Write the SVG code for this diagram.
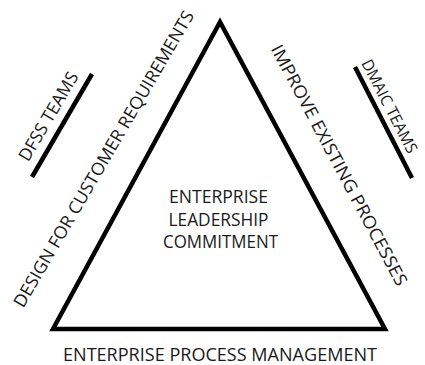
<svg xmlns="http://www.w3.org/2000/svg" width="425" height="365" viewBox="0 0 425 365">
<style>
.t{font-family:"Open Sans","Liberation Sans",sans-serif;font-size:17.5px;fill:#1a1a1a;}
.c{text-anchor:middle;}
.ln{stroke:#000;stroke-width:4.5;fill:none;stroke-linecap:butt;}
</style>
<rect width="425" height="365" fill="#fff"/>
<g id="triangle">
<polygon points="220,22 53,329 385,329" fill="#fff" stroke="#000" stroke-width="4.5" stroke-linejoin="miter"/>
</g>
<g id="connectors">
<line class="ln" x1="32" y1="177" x2="92" y2="74"/>
<line class="ln" x1="355" y1="67" x2="412" y2="178"/>
</g>
<g id="center">
<text class="t c" x="218.5" y="203" textLength="99" lengthAdjust="spacingAndGlyphs">ENTERPRISE</text>
<text class="t c" x="218.5" y="226" textLength="100" lengthAdjust="spacingAndGlyphs">LEADERSHIP</text>
<text class="t c" x="220.5" y="248" textLength="115" lengthAdjust="spacingAndGlyphs">COMMITMENT</text>
</g>
<g id="bottom">
<text class="t c" x="220" y="361" textLength="314" lengthAdjust="spacingAndGlyphs">ENTERPRISE PROCESS MANAGEMENT</text>
</g>
<g id="left-side">
<text class="t c" transform="translate(109,162) rotate(-59.7)" x="0" y="0" textLength="340" lengthAdjust="spacingAndGlyphs">DESIGN FOR CUSTOMER REQUIREMENTS</text>
</g>
<g id="right-side">
<text class="t c" transform="translate(333.8,168) rotate(62)" x="0" y="0" textLength="270" lengthAdjust="spacingAndGlyphs">IMPROVE EXISTING PROCESSES</text>
</g>
<g id="dfss">
<text class="t c" transform="translate(53.7,119.5) rotate(-59.5)" x="0" y="0" textLength="100" lengthAdjust="spacingAndGlyphs">DFSS TEAMS</text>
</g>
<g id="dmaic">
<text class="t" style="font-size:16px" transform="translate(361,63) rotate(62.8)" x="0" y="0" textLength="103" lengthAdjust="spacingAndGlyphs">DMAIC TEAMS</text>
</g>
</svg>
